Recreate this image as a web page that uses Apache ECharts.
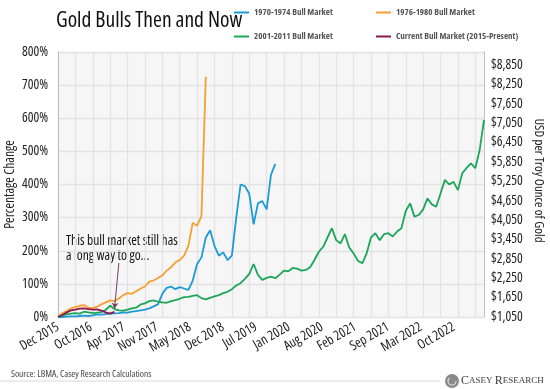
<!DOCTYPE html>
<html>
<head>
<meta charset="utf-8">
<script src="https://cdn.jsdelivr.net/npm/echarts@6/dist/echarts.min.js"></script>
<style>
html,body{margin:0;padding:0;background:#fff;}
#chart{width:550px;height:389px;}
</style>
</head>
<body>
<div id="chart"></div>
<script>
// Use a condensed face (similar to the narrow face used in the reference) whenever Open Sans is requested.
(function(){
  const proto = CanvasRenderingContext2D.prototype;
  const desc = Object.getOwnPropertyDescriptor(proto, 'font');
  if (desc && 'fontStretch' in proto) {
    Object.defineProperty(proto, 'font', {
      configurable:true,
      get:function(){ return desc.get.call(this); },
      set:function(v){ desc.set.call(this, v); this.fontStretch = /Open Sans/.test(v) ? 'condensed' : 'normal'; }
    });
  }
})();

// ---- data (percentage change from start of each bull market) ----
const xLabels = ['Dec 2015','Oct 2016','Apr 2017','Nov 2017','May 2018','Dec 2018','Jul 2019','Jan 2020','Aug 2020','Feb 2021','Sep 2021','Mar 2022','Oct 2022'];
const pctTicks = [0,100,200,300,400,500,600,700,800];
const usdTicks = [1050,1650,2250,2850,3450,4050,4650,5250,5850,6450,7050,7650,8250,8850];

const bull1970 = [0,0,1,2,2,3,4,3,5,8,7,9,10,11,12,14,13,16,18,20,22,26,32,38,70,88,92,84,90,86,82,110,160,180,240,262,215,185,195,172,185,300,400,395,372,280,343,350,325,430,462];
const bull1976 = [0,12,18,26,30,34,36,28,27,31,38,44,50,48,56,66,72,70,78,86,92,107,110,118,126,140,150,165,172,185,215,285,275,305,725];
const bull2001 = [0,5,8,10,12,10,16,14,12,13,15,22,34,24,20,19,22,26,28,38,41,48,50,46,44,43,48,51,55,60,61,64,66,57,53,58,62,66,72,76,84,95,102,115,130,160,127,112,118,122,117,128,140,138,148,146,140,142,150,172,197,212,240,268,232,222,250,210,192,170,162,192,240,253,232,250,253,243,258,268,320,343,303,308,325,358,340,333,373,414,400,408,383,434,450,464,449,504,595];
const bullNow = [0,6,14,20,22,25,26,24,22,23,19,14,10,16];

const seriesNames = ['1970-1974 Bull Market','1976-1980 Bull Market','2001-2011 Bull Market','Current Bull Market (2015-Present)'];
const seriesColors = ['#1e9ad6','#f6a033','#1ca65a','#8c1a4e'];

// data axis: one category per sample
const nPoints = 99;
const categories = [];
for (let i = 0; i < nPoints; i++) categories.push(String(i));

// label axis: fine category grid, a date label every 11th slot
const labelStep = 11, labelSlots = 143;
const labelCats = [];
for (let i = 0; i < labelSlots; i++) labelCats.push(i % labelStep === 0 && xLabels[i / labelStep] ? xLabels[i / labelStep] : '');

const FONT = "'Open Sans',sans-serif";

const chart = echarts.init(document.getElementById('chart'), null, {renderer:'canvas'});

function legendAt(name, left, top) {
  return {
    data:[name], left:left, top:top, padding:0, orient:'horizontal',
    icon:'rect', itemWidth:15, itemHeight:2, itemGap:0,
    textStyle:{fontFamily:FONT, fontSize:9, fontWeight:'bold', color:'#555'}
  };
}

const option = {
  animation:false,
  backgroundColor:'#ffffff',
  title:{
    text:'Gold Bulls Then and Now', left:51, top:5,
    textStyle:{fontFamily:FONT, fontSize:21.5, fontWeight:'normal', color:'#111'}
  },
  legend:[
    legendAt(seriesNames[0], 234, 8),
    legendAt(seriesNames[1], 376, 8),
    legendAt(seriesNames[2], 234, 32),
    legendAt(seriesNames[3], 376, 32)
  ],
  grid:{left:58, right:66, top:52, bottom:72, show:true, backgroundColor:'#f6f6f6', borderWidth:0,
        containLabel:false, outerBoundsMode:'none'},
  xAxis:[
    {
      type:'category', data:categories, boundaryGap:false,
      axisLine:{show:false}, axisTick:{show:false}, axisLabel:{show:false},
      splitLine:{show:true, interval:function(i){return i % 4 === 0;}, lineStyle:{color:'#e3e3e3', width:1.3}}
    },
    {
      type:'category', data:labelCats, boundaryGap:false, position:'bottom',
      axisLine:{show:false}, axisTick:{show:false}, splitLine:{show:false},
      axisLabel:{
        interval:function(i){ return i % labelStep === 0; },
        rotate:30, margin:9, fontFamily:FONT, fontSize:13.5, color:'#222', hideOverlap:false
      }
    }
  ],
  yAxis:[
    {
      type:'value', min:pctTicks[0], max:pctTicks[pctTicks.length-1], interval:pctTicks[1]-pctTicks[0],
      name:'Percentage Change', nameLocation:'middle', nameGap:41, nameMoveOverlap:false,
      nameTextStyle:{fontFamily:FONT, fontSize:13.5, color:'#222'},
      axisLine:{show:true, lineStyle:{type:'dotted', color:'#b5b5b5'}},
      axisTick:{show:false},
      axisLabel:{fontFamily:FONT, fontSize:13.5, color:'#222', margin:10, formatter:'{value}%'},
      splitLine:{show:true, lineStyle:{color:'#e3e3e3', width:1.3}}
    },
    {
      type:'value', position:'right', min:usdTicks[0], max:9250, interval:usdTicks[1]-usdTicks[0],
      name:'USD per Troy Ounce of Gold', nameLocation:'middle', nameGap:48, nameRotate:-90, nameMoveOverlap:false,
      nameTextStyle:{fontFamily:FONT, fontSize:13, color:'#222', padding:[0,8,0,0]},
      axisLine:{show:true, lineStyle:{type:'dotted', color:'#b5b5b5'}},
      axisTick:{show:false},
      splitLine:{show:false},
      axisLabel:{
        fontFamily:FONT, fontSize:13.5, color:'#222', margin:7,
        formatter:function(v){ return usdTicks.indexOf(v) >= 0 ? '$' + v.toLocaleString('en-US') : ''; }
      }
    }
  ],
  series:[
    {name:seriesNames[0], type:'line', data:bull1970, showSymbol:false, symbol:'none', lineStyle:{width:1.8, color:seriesColors[0]}, itemStyle:{color:seriesColors[0]}},
    {name:seriesNames[1], type:'line', data:bull1976, showSymbol:false, symbol:'none', lineStyle:{width:1.8, color:seriesColors[1]}, itemStyle:{color:seriesColors[1]}},
    {name:seriesNames[2], type:'line', data:bull2001, showSymbol:false, symbol:'none', lineStyle:{width:1.8, color:seriesColors[2]}, itemStyle:{color:seriesColors[2]}},
    {name:seriesNames[3], type:'line', data:bullNow, showSymbol:false, symbol:'none', lineStyle:{width:1.8, color:seriesColors[3]}, itemStyle:{color:seriesColors[3]},
      markLine:{
        silent:true, symbol:['none','arrow'], symbolSize:[5,6], label:{show:false},
        lineStyle:{color:'#7a3d63', width:1, type:'solid'},
        data:[[{coord:[13.7,163]},{coord:[12.6,25]}]]
      }
    }
  ],
  graphic:[
    {type:'text', left:66, top:234, style:{text:'This bull market still has\na long way to go...', font:"13.5px 'Open Sans',sans-serif", fill:'#111', lineHeight:15}},
    {type:'text', left:11, top:369, style:{text:'Source: LBMA, Casey Research Calculations', font:"9.5px 'Open Sans',sans-serif", fill:'#444'}},
    {type:'line', shape:{x1:0, y1:381, x2:440, y2:381}, style:{stroke:'#d8d8d8', lineWidth:1}},
    {type:'circle', shape:{cx:452, cy:381, r:7}, style:{fill:'#8a8a8a'}},
    {type:'arc', shape:{cx:452, cy:381, r:4, startAngle:0, endAngle:4}, style:{stroke:'#dcdcdc', lineWidth:1.2, fill:null}},
    {type:'text', left:461, top:375, style:{
      rich:{b:{fontFamily:"'Liberation Serif',serif", fontSize:12, fill:'#3c3c3c'}, s:{fontFamily:"'Liberation Serif',serif", fontSize:9, fill:'#3c3c3c'}},
      text:'{b|C}{s|ASEY }{b|R}{s|ESEARCH}'
    }}
  ]
};
chart.setOption(option);
</script>
</body>
</html>
